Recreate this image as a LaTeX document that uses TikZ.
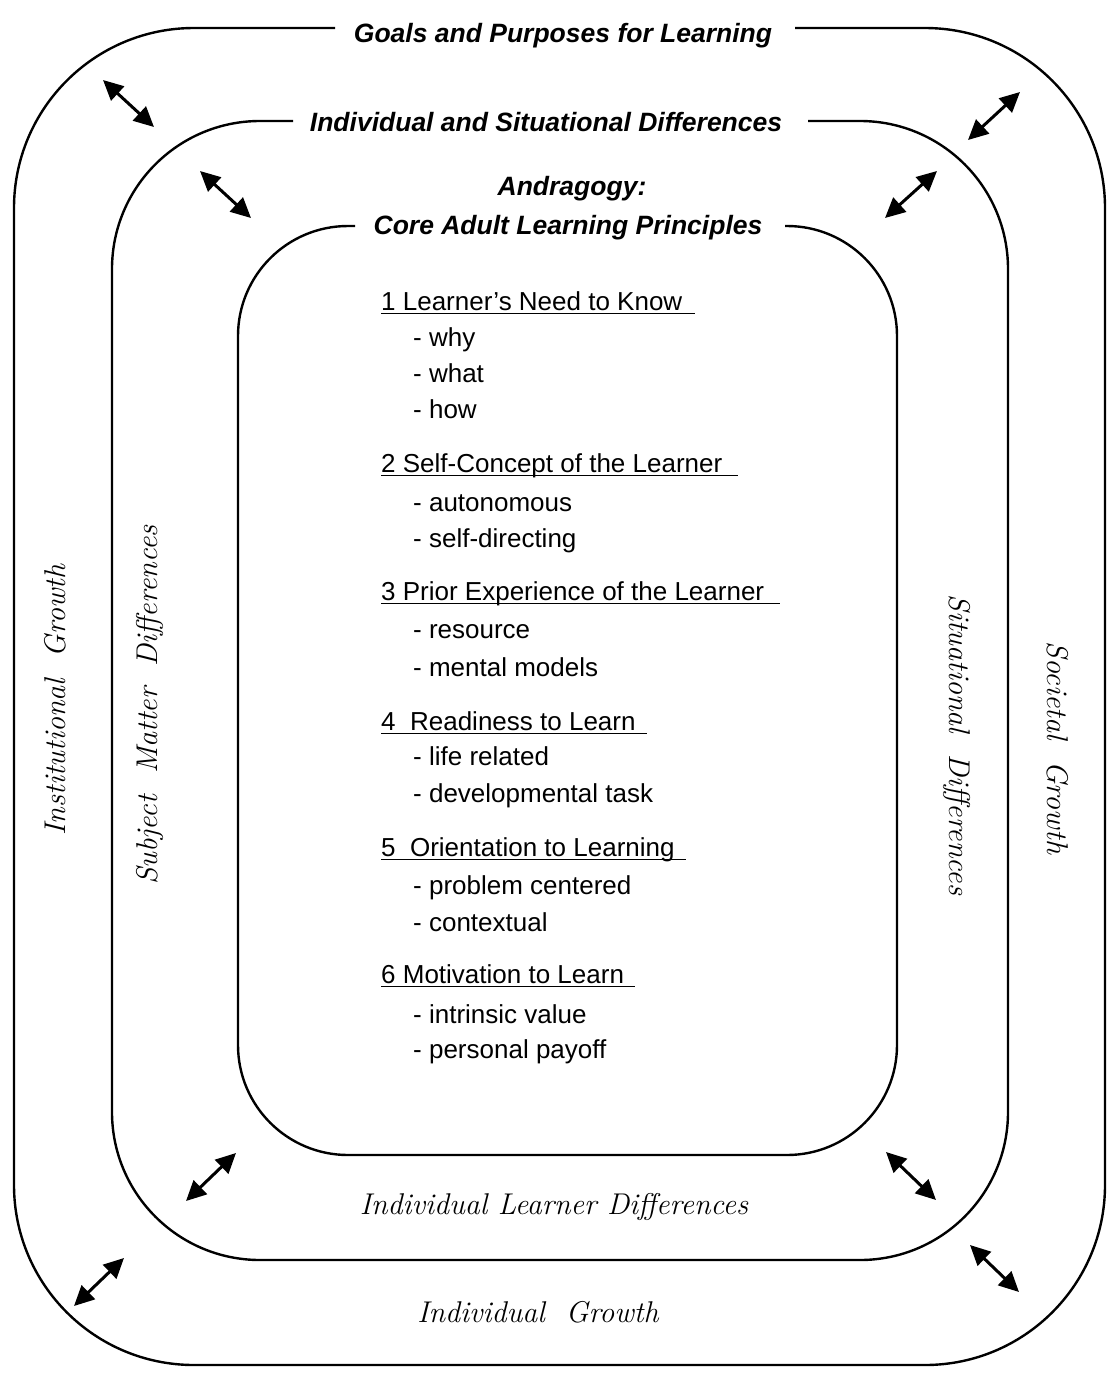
\documentclass[tikz,border=0pt]{standalone}
\usepackage{fontspec}
\setsansfont{Liberation Sans}
\usetikzlibrary{arrows.meta}

\begin{document}
\begin{tikzpicture}[x=1pt,y=-1pt,
  rim/.style={line width=2.4pt,rounded corners=#1},
  dbl/.style={line width=3pt,{Triangle[length=20pt,width=19pt]}-{Triangle[length=20pt,width=19pt]}},
  ttl/.style={font=\sffamily\bfseries\itshape\fontsize{26.5}{30}\selectfont,anchor=base,inner sep=0pt},
  hd/.style={font=\sffamily\fontsize{26}{30}\selectfont,anchor=base west,inner sep=0pt},
  itm/.style={font=\sffamily\fontsize{26}{30}\selectfont,anchor=base west,inner sep=0pt},
  side/.style={font=\itshape\fontsize{30}{34}\selectfont,inner sep=0pt},
  uline/.style={line width=1.4pt}]
\useasboundingbox (0,0) rectangle (1111,1374);
% three frames, open at the top for the titles
\draw[rim=180] (795,28) -- (1105,28) -- (1105,1365) -- (14,1365) -- (14,28) -- (335,28);
\draw[rim=148] (808,121) -- (1008,121) -- (1008,1260) -- (112,1260) -- (112,121) -- (293,121);
\draw[rim=110] (785,226) -- (897,226) -- (897,1155) -- (238,1155) -- (238,226) -- (355,226);
% titles
\node[ttl] (goals) at (563,42) {Goals and Purposes for Learning};
\node[ttl] (isd) at (546,131) {Individual and Situational Differences};
\node[ttl] (andr) at (572,195) {Andragogy:};
\node[ttl] (core) at (568,234) {Core Adult Learning Principles};
% principles
\foreach \i/\y/\u/\t in %
{1/310/695/{1 Learner’s Need to Know },2/472/738/{2 Self-Concept of the Learner },
 3/600/780/{3 Prior Experience of the Learner },4/730/647/{4\ \ Readiness to Learn },
 5/856/686/{5\ \ Orientation to Learning },6/983/635/{6 Motivation to Learn }} {
   \node[hd] (h\i) at (381,\y) {\t};
   \draw[uline] ([yshift=-3.5pt]h\i.base west) -- ++(\u-381,0);
}
\foreach \y/\t in %
{346/- why,382/- what,418/- how,511/- autonomous,547/- self-directing,
 638/- resource,676/- mental models,765/- life related,802/- developmental task,
 894/- problem centered,931/- contextual,1023/- intrinsic value,1058/- personal payoff} {
   \node[itm] (s\y) at (413,\y) {\t};
}
% arrows between the frames
\foreach \n/\a/\b/\c/\d in %
{1/103/80/154/127,2/200/171/251/218,3/1020/92/968/140,4/937/171/885/218,
 5/236/1153/186/1201,6/886/1152/936/1200,7/124/1258/74/1306,8/970/1245/1019/1292} {
   \coordinate (p\n) at (\a,\b);
   \coordinate (q\n) at (\c,\d);
   \draw[dbl] (p\n) -- (q\n);
}
% side labels
\node[side,rotate=90] (ig) at (55,700) {Institutional\ \ Growth};
\node[side,rotate=90] (smd) at (150,705) {Subject\ \ Matter\ \ Differences};
\node[side,rotate=-90] (sd) at (957,745) {Situational\ \ Differences};
\node[side,rotate=-90] (sg) at (1058,748) {Societal\ \ Growth};
\node[side] (ild) at (554,1207) {Individual Learner Differences};
\node[side] (igr) at (538,1312) {Individual\ \ Growth};
\end{tikzpicture}
\end{document}
